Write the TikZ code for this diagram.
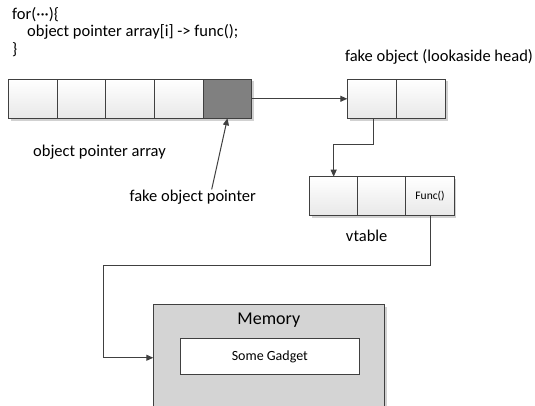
\documentclass[tikz,border=0pt]{standalone}
\usepackage{fontspec}
\setmainfont{Carlito}
\usetikzlibrary{arrows.meta}
\definecolor{ln}{HTML}{404040}
\tikzset{
  cell/.style={draw=ln, line width=0.9pt, top color=white, bottom color=black!9, minimum width=48.7pt, minimum height=39pt, inner sep=0pt, anchor=north west, outer sep=0pt},
  shadowbox/.style={fill=black!18, draw=none},
  conn/.style={draw=ln, line width=1pt, -{Triangle[length=7pt,width=6pt]}},
  lbl/.style={font=\fontsize{16.5}{18}\selectfont, inner sep=0pt},
}
\begin{document}
\begin{tikzpicture}[x=1pt,y=-1pt]
\useasboundingbox[fill=white] (0,0) rectangle (535,406);
% code text
\node[lbl, anchor=west] (c1) at (12,14.5) {for(···)\{};
\node[lbl, anchor=west] (c2) at (27,32) {object pointer array[i] -> func();};
\node[lbl, anchor=west] (c3) at (12,49.5) {\}};
% shadows
\fill[shadowbox] (10.5,81.5) rectangle (253.5,120.8);
\fill[shadowbox] (349.5,81.5) rectangle (447.5,121.5);
\fill[shadowbox] (311.5,179) rectangle (456,218);
\fill[shadowbox] (155.5,306.5) rectangle (386.5,410);
% array
\node[cell] (a1) at (8.3,79.3) {};
\node[cell] (a2) at (57,79.3) {};
\node[cell] (a3) at (105.7,79.3) {};
\node[cell] (a4) at (154.4,79.3) {};
\node[cell, fill=black!50, top color=black!50, bottom color=black!50] (a5) at (203.1,79.3) {};
\node[lbl] (oparr) at (99.5,151.7) {object pointer array};
\node[lbl] (fop) at (192.7,196.7) {fake object pointer};
% fake object
\node[cell] (f1) at (347.3,79.3) {};
\node[cell] (f2) at (396.3,79.3) {};
\node[lbl] (fol) at (439,57) {fake object (lookaside head)};
% vtable
\node[cell] (v1) at (309.3,176.7) {};
\node[cell] (v2) at (357.5,176.7) {};
\node[cell] (v3) at (405.7,176.7) {\fontsize{11.5}{12}\selectfont Func()};
\node[lbl] (vtl) at (366.7,236) {vtable};
% memory
\node[draw=ln, line width=0.9pt, fill=black!17, minimum width=231pt, minimum height=106pt, inner sep=0pt, anchor=north west] (mem) at (153.3,304.3) {};
\node[lbl, font=\fontsize{18}{20}\selectfont] (meml) at (268.8,320.5) {Memory};
\node[draw=ln, line width=0.9pt, fill=white, minimum width=178.7pt, minimum height=36pt, inner sep=0pt, anchor=north west, font=\fontsize{14}{16}\selectfont] (gad) at (180,338.3) {Some Gadget};
% connectors
\draw[conn] (a5.east) -- (f1.west);
\draw[conn] ([xshift=2pt]f1.south) -- ++(0,26) -| (v1.north);
\coordinate (bend) at (103.3,265);
\draw[conn] (v3.south) |- (bend) |- (mem.west);
\draw[conn] ([xshift=19pt]fop.north) -- (a5.south);
\end{tikzpicture}
\end{document}
